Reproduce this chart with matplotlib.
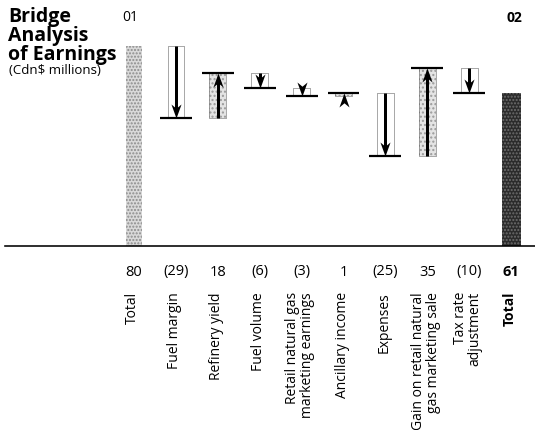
import numpy as np
import matplotlib
matplotlib.use("Agg")
import matplotlib.pyplot as plt
from matplotlib.path import Path

plt.rcParams['font.family'] = ['Open Sans', 'DejaVu Sans']
plt.rcParams['hatch.linewidth'] = 1.0

# ---- data (Cdn$ millions) ----
categories = ["Total", "Fuel margin", "Refinery yield", "Fuel volume",
              "Retail natural gas\nmarketing earnings", "Ancillary income",
              "Expenses", "Gain on retail natural\ngas marketing sale",
              "Tax rate\nadjustment", "Total"]
value_labels = ["80", "(29)", "18", "(6)", "(3)", "1", "(25)", "35", "(10)", "61"]
opening_total = 80
changes = [-29, 18, -6, -3, 1, -25, 35, -10]
closing_total = 61
year_labels = ["01", "02"]

# ---- figure / axes geometry ----
W, H, DPI = 535, 431, 100
fig = plt.figure(figsize=(W / DPI, H / DPI), dpi=DPI)
x0_px, step_px = 134.0, 41.9
base_px = 246.5           # baseline, pixels from top
px_per_unit = 2.5
ax = fig.add_axes([0, (H - base_px) / H, 1, base_px / H])
ax.set_xlim(-x0_px / step_px, (W - x0_px) / step_px)
ax.set_ylim(0, base_px / px_per_unit)
ax.axis('off')

PT = 72.0 / DPI  # points per pixel

levels_after = opening_total + np.cumsum(changes)
levels_before = np.concatenate([[opening_total], levels_after[:-1]])
n = len(categories)
xs = np.arange(n)

# baseline
ax.axhline(0, xmin=5 / W, xmax=1, color='black', lw=1.6 * PT, clip_on=False, zorder=5)

# opening and closing totals
ax.bar(xs[0], opening_total, width=0.36, color='#d9d9d9', hatch='.....',
       edgecolor='#8c8c8c', linewidth=0, zorder=2)
ax.bar(xs[-1], closing_total, width=0.45, color='#2b2b2b', hatch='.....',
       edgecolor='#6e6e6e', linewidth=0, zorder=2)

# arrowhead markers (tip at the marker origin)
head_up = Path([(0, 0), (-0.36, -1), (0, -0.7), (0.36, -1), (0, 0)],
               [Path.MOVETO, Path.LINETO, Path.LINETO, Path.LINETO, Path.CLOSEPOLY])
head_down = Path([(0, 0), (-0.36, 1), (0, 0.7), (0.36, 1), (0, 0)],
                 [Path.MOVETO, Path.LINETO, Path.LINETO, Path.LINETO, Path.CLOSEPOLY])
head_len_px = 14.0
head_ms = 2 * head_len_px * PT
head_len_units = head_len_px / px_per_unit

for k, (chg, lo, hi) in enumerate(zip(changes, levels_before, levels_after)):
    i = xs[k + 1]
    if chg > 0:
        ax.bar(i, chg, bottom=lo, width=0.4, color='#e4e4e4', hatch='....',
               edgecolor='#9a9a9a', linewidth=0, zorder=2)
    else:
        ax.bar(i, chg, bottom=lo, width=0.4, color='white', linewidth=0, zorder=2)
    ax.bar(i, chg, bottom=lo, width=0.4, fill=False, edgecolor='#555555',
           linestyle=(0, (1, 1)), linewidth=1.0 * PT, zorder=3)
    # level line at the new running total
    ax.hlines(hi, i - 0.38, i + 0.38, color='black', lw=2.2 * PT, zorder=4)
    # arrow from previous total to new total
    sign = 1 if chg > 0 else -1
    shaft_end = hi - sign * head_len_units * 0.6
    if (shaft_end - lo) * sign > 0:
        ax.plot([i, i], [lo, shaft_end], color='black', lw=3.0 * PT,
                solid_capstyle='butt', zorder=5)
    ax.plot([i], [hi], marker=head_up if chg > 0 else head_down,
            markersize=head_ms, color='black', markeredgewidth=0, zorder=6)

# value labels and category labels under the baseline
for k in range(n):
    bold = k == n - 1
    ax.annotate(value_labels[k], xy=(xs[k], 0), xytext=(0, -25.5 * PT),
                textcoords='offset points', ha='center', va='center',
                fontsize=10.5, fontweight='bold' if bold else 'normal',
                annotation_clip=False)
    ax.annotate(categories[k], xy=(xs[k], 0), xytext=(-1.5 * PT, -45.5 * PT),
                textcoords='offset points', ha='center', va='top',
                rotation=90, multialignment='right', linespacing=1.0,
                fontsize=10, fontweight='bold' if bold else 'normal',
                annotation_clip=False)

# year markers above the totals
ax.annotate(year_labels[0], xy=(xs[0], base_px / px_per_unit), xytext=(-4 * PT, -17 * PT),
            textcoords='offset points', ha='center', va='center', fontsize=10,
            annotation_clip=False)
ax.annotate(year_labels[1], xy=(xs[-1], base_px / px_per_unit), xytext=(3 * PT, -18 * PT),
            textcoords='offset points', ha='center', va='center', fontsize=10,
            fontweight='bold', annotation_clip=False)

# title block
fig.text(8 / W, 1 - 7 / H, "Bridge\nAnalysis\nof Earnings", ha='left', va='top',
         fontsize=14, fontweight='bold', linespacing=0.92)
fig.text(9 / W, 1 - 64 / H, "(Cdn$ millions)", ha='left', va='top', fontsize=9.5)

fig.savefig("out.png", dpi=DPI)
